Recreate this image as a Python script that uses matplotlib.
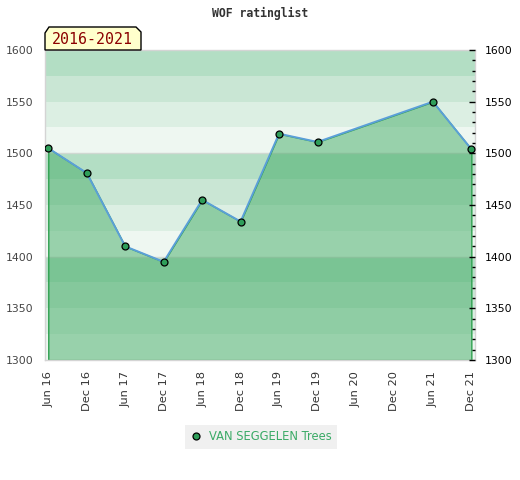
import matplotlib
matplotlib.use('Agg')
import matplotlib.pyplot as plt
from matplotlib.patches import Polygon
from matplotlib.ticker import MultipleLocator
from matplotlib.lines import Line2D

# Daten
tick_labels = ['Jun 16', 'Dec 16', 'Jun 17', 'Dec 17', 'Jun 18', 'Dec 18',
               'Jun 19', 'Dec 19', 'Jun 20', 'Dec 20', 'Jun 21', 'Dec 21']
point_idx = [0, 1, 2, 3, 4, 5, 6, 7, 10, 11]
ratings = [1505, 1481, 1410, 1395, 1455, 1434, 1519, 1511, 1550, 1504]
player = 'VAN SEGGELEN Trees'
period = '2016-2021'

W, H = 520, 480
fig = plt.figure(figsize=(W / 100, H / 100), dpi=100)
ax = fig.add_axes([45 / W, 1 - 360 / H, 430 / W, 310 / H])

ymin, ymax = 1300, 1600
ax.set_xlim(-0.085, len(tick_labels) - 1 + 0.095)
ax.set_ylim(ymin, ymax)

# Hintergrund-Streifen (4 pro 100 Punkte)
band_colors = ['#b3dec4', '#c9e6d4', '#dcefe3', '#eef7f1']
for top in range(ymax, ymin, -100):
    for i, c in enumerate(band_colors):
        ax.axhspan(top - 25 * (i + 1), top - 25 * i, color=c, lw=0, zorder=0)
for y in range(ymin + 100, ymax, 100):
    ax.axhline(y, color='#d0d8d2', lw=1, zorder=0.5)

ax.fill_between(point_idx, ratings, ymin, facecolor=(67 / 255, 172 / 255, 102 / 255, 0.5),
                edgecolor='#2ea04f', lw=1, zorder=1)
ax.plot(point_idx, ratings, color='#5b9fd8', lw=1.4, zorder=2)
ax.plot(point_idx, ratings, 'o', ms=5, mfc='#2f9e5a', mec='black', mew=0.9, zorder=3)

for s in ax.spines.values():
    s.set_color('#d4d4d4')
    s.set_linewidth(1)

ax.set_xticks(range(len(tick_labels)))
ax.set_xticklabels(tick_labels, rotation=90, fontsize=8.2, color='#333333')
ax.yaxis.set_major_locator(MultipleLocator(50))
ax.tick_params(axis='x', length=0, pad=8)
ax.tick_params(axis='y', length=0, pad=8, labelsize=7.8, labelcolor='#444444')

ax2 = ax.twinx()
ax2.set_ylim(ymin, ymax)
ax2.yaxis.set_major_locator(MultipleLocator(50))
ax2.yaxis.set_minor_locator(MultipleLocator(10))
ax2.tick_params(axis='y', which='major', direction='in', length=4, width=1, color='black',
                pad=7, labelsize=7.8, labelcolor='black')
ax2.tick_params(axis='y', which='minor', direction='in', length=2.5, width=1, color='black')
for s in ax2.spines.values():
    s.set_visible(False)

# Titel
fig.text(0.5, 1 - 13 / H, 'WOF ratinglist', ha='center', va='center',
         family='DejaVu Sans Mono', weight='bold', fontsize=8.3, color='#333333')

# Zeitraum-Label
px = [(45, 50), (45, 33), (49, 27), (136, 27), (141, 32), (141, 50)]
box = Polygon([(x / W, 1 - y / H) for x, y in px], closed=True,
              transform=fig.transFigure, facecolor='#ffffcc', edgecolor='black', lw=1)
fig.add_artist(box)
fig.text(92 / W, 1 - 40 / H, period, ha='center', va='center',
         family='DejaVu Sans Mono', fontsize=10.7, color='#8b0000')

# Legende
handle = Line2D([], [], ls='none', marker='o', ms=5, mfc='#2f9e5a', mec='black', mew=0.9)
leg = fig.legend([handle], [player], loc='center', bbox_to_anchor=(261 / W, 1 - 437 / H),
                 frameon=True, facecolor='#f0f0f0', edgecolor='none', fancybox=False,
                 fontsize=8.3, labelcolor='#3aaa66', handlelength=1, handletextpad=0.6,
                 borderpad=0.45, borderaxespad=0)
leg.get_frame().set_alpha(1)

fig.savefig('out.png', dpi=100)
